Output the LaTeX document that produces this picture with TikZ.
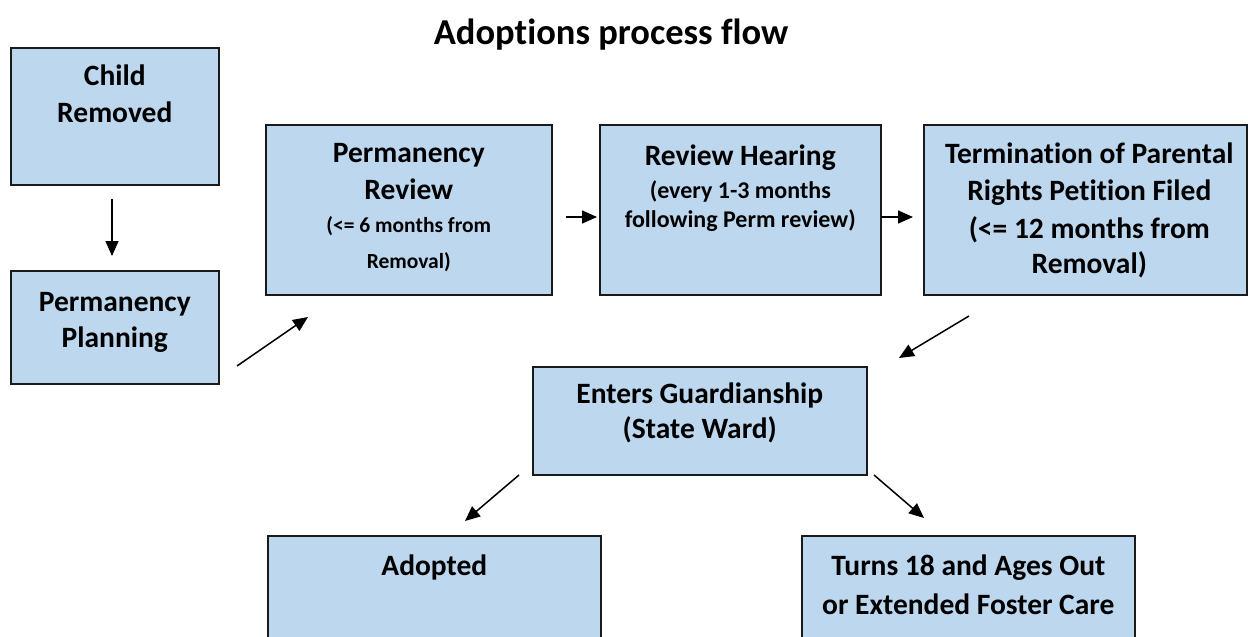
\documentclass[tikz,border=0pt]{standalone}
\usepackage{fontspec}
\setmainfont{Carlito}[Ligatures=NoCommon]
\usetikzlibrary{arrows.meta}
\definecolor{boxfill}{HTML}{BDD7EE}
\definecolor{boxline}{HTML}{1A1A1A}
\begin{document}
\begin{tikzpicture}[x=1pt,y=-1pt,
  box/.style={draw=boxline, line width=1.6pt, fill=boxfill, rectangle, anchor=north west, inner sep=0pt},
  txt/.style={anchor=north, align=center, inner sep=0pt, font=\fontsize{29.5}{37}\selectfont\bfseries},
  titletxt/.style={anchor=north, inner sep=0pt, font=\fontsize{36.5}{40}\selectfont\bfseries},
  arr/.style={line width=1.5pt, draw=black, -{Triangle[length=15pt,width=13pt]}}]
\clip (0,0) rectangle (1248,637);
\fill[white] (0,0) rectangle (1248,637);

\node[titletxt] (title) at (611,19) {Adoptions process flow};

% boxes
\node[box, minimum width=208pt, minimum height=137pt] (cr) at (10,47) {};
\node[box, minimum width=208pt, minimum height=113pt] (pp) at (10,270) {};
\node[box, minimum width=286pt, minimum height=170pt] (pr) at (265,124) {};
\node[box, minimum width=281pt, minimum height=170pt] (rh) at (599,124) {};
\node[box, minimum width=323pt, minimum height=170pt] (tpr) at (923,124) {};
\node[box, minimum width=334pt, minimum height=108pt] (eg) at (532,366) {};
\node[box, minimum width=333pt, minimum height=130pt] (ad) at (267,535) {};
\node[box, minimum width=333pt, minimum height=130pt] (tu) at (801,535) {};

% texts
\node[txt] (cr-t) at ([yshift=-18pt]cr.north) {Child\\Removed};
\node[txt] (pp-t) at ([yshift=-22pt]pp.north) {Permanency\\[-1pt]Planning};
\node[txt] (pr-t) at ([yshift=-19pt]pr.north) {Permanency\\Review\\[-4pt]{\fontsize{21.5}{37}\selectfont (<= 6 months from}\\[-1pt]{\fontsize{21.5}{37}\selectfont Removal)}};
\node[txt] (rh-t) at ([yshift=-21pt]rh.north) {Review Hearing\\[-4pt]{\fontsize{24}{37}\selectfont (every 1-3 months}\\[-8pt]{\fontsize{24}{37}\selectfont following Perm review)}};
\node[txt] (tpr-t) at ([yshift=-19pt,xshift=4pt]tpr.north) {Termination of Parental\\Rights Petition Filed\\[1pt](<= 12 months from\\[-2pt]Removal)};
\node[txt] (eg-t) at ([yshift=-17pt]eg.north) {Enters Guardianship\\[-2pt](State Ward)};
\node[txt] (ad-t) at ([yshift=-20pt]ad.north) {Adopted};
\node[txt] (tu-t) at ([yshift=-20pt]tu.north) {Turns 18 and Ages Out\\[2pt]or Extended Foster Care};

% arrow end points
\coordinate (a1s) at (112,199); \coordinate (a1e) at (112,256);
\coordinate (a2s) at (237,366); \coordinate (a2e) at (308,317);
\coordinate (a3s) at (566,217); \coordinate (a3e) at (597,217);
\coordinate (a4s) at (881,217); \coordinate (a4e) at (913,217);
\coordinate (a5s) at (969,316); \coordinate (a5e) at (899,358);
\coordinate (a6s) at (519,475); \coordinate (a6e) at (465,521);
\coordinate (a7s) at (874,475); \coordinate (a7e) at (924,518);

\draw[arr] (a1s) -- (a1e);
\draw[arr] (a2s) -- (a2e);
\draw[arr] (a3s) -- (a3e);
\draw[arr] (a4s) -- (a4e);
\draw[arr] (a5s) -- (a5e);
\draw[arr] (a6s) -- (a6e);
\draw[arr] (a7s) -- (a7e);
\end{tikzpicture}
\end{document}
